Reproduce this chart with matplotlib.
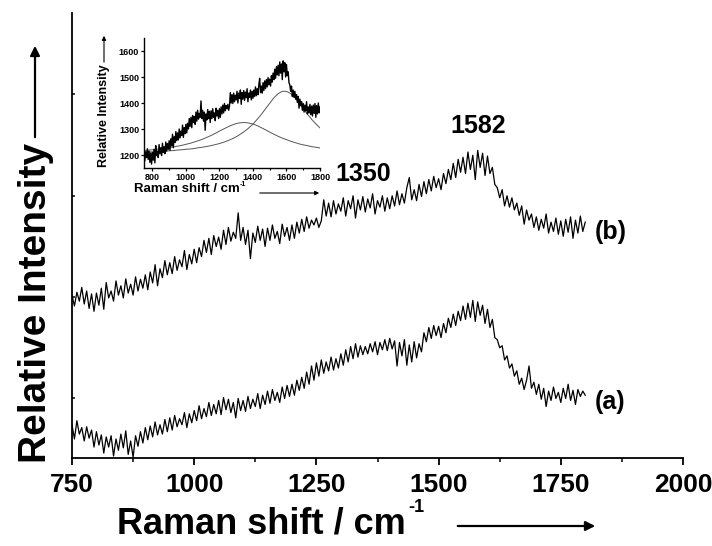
import numpy as np
import matplotlib.pyplot as plt
from matplotlib.ticker import MultipleLocator

# Raman shift grid (cm^-1), 5 cm^-1 step
shift = np.arange(750, 1801, 5)

# Spectrum (b), in counts (same data shown in the inset)
spectrum_b = [
    1205, 1178, 1212, 1190, 1224, 1183, 1215, 1172, 1208, 1165,
    1210, 1180, 1222, 1170, 1236, 1198, 1215, 1190, 1240, 1205,
    1228, 1198, 1245, 1210, 1232, 1205, 1250, 1215, 1244, 1222,
    1255, 1218, 1262, 1235, 1280, 1228, 1270, 1248, 1290, 1255,
    1285, 1258, 1300, 1266, 1292, 1275, 1315, 1268, 1305, 1282,
    1318, 1285, 1322, 1300, 1340, 1310, 1345, 1305, 1352, 1325,
    1348, 1318, 1365, 1330, 1372, 1338, 1360, 1345, 1408, 1340,
    1372, 1330, 1365, 1295, 1358, 1335, 1375, 1340, 1368, 1325,
    1370, 1340, 1378, 1345, 1362, 1332, 1380, 1350, 1372, 1340,
    1378, 1345, 1385, 1358, 1392, 1362, 1398, 1370, 1390, 1378,
    1395, 1372, 1388, 1440, 1400, 1432, 1398, 1438, 1405, 1430,
    1412, 1445, 1400, 1438, 1418, 1450, 1395, 1440, 1415, 1448,
    1410, 1442, 1420, 1455, 1405, 1438, 1422, 1450, 1412, 1445,
    1418, 1450, 1425, 1462, 1428, 1455, 1432, 1470, 1495, 1440,
    1465, 1438, 1478, 1448, 1485, 1455, 1490, 1462, 1498, 1470,
    1492, 1465, 1505, 1480, 1515, 1490, 1530, 1495, 1540, 1508,
    1545, 1505, 1558, 1515, 1550, 1490, 1562, 1520, 1555, 1500,
    1548, 1505, 1520, 1478, 1470, 1445, 1465, 1425, 1450, 1422,
    1445, 1415, 1432, 1402, 1425, 1380, 1415, 1390, 1405, 1372,
    1398, 1365, 1392, 1370, 1405, 1358, 1385, 1362, 1395, 1355,
    1388, 1350, 1392, 1360, 1398, 1345, 1390, 1358, 1400, 1362, 1385,
]

# Spectrum (a), stacked below (b) on the same scale
spectrum_a = [
    885, 850, 895, 862, 878, 845, 880, 852, 872, 830,
    868, 835, 860, 815, 855, 830, 858, 808, 850, 822,
    862, 828, 870, 812, 845, 805, 858, 832, 868, 840,
    878, 848, 882, 855, 892, 860, 885, 862, 898, 868,
    902, 872, 908, 880, 900, 885, 915, 878, 912, 890,
    920, 895, 932, 900, 925, 905, 940, 908, 935, 912,
    945, 910, 952, 922, 948, 915, 940, 902, 950, 920,
    945, 918, 955, 925, 948, 930, 962, 925, 958, 935,
    968, 938, 972, 945, 965, 940, 978, 950, 982, 955,
    985, 958, 995, 970, 1002, 975, 1015, 985, 1030, 995,
    1038, 1005, 1045, 1012, 1040, 1018, 1052, 1020, 1048, 1025,
    1060, 1032, 1070, 1040, 1078, 1048, 1085, 1052, 1080, 1058,
    1078, 1060, 1085, 1065, 1090, 1058, 1088, 1070, 1095, 1068,
    1098, 1072, 1092, 1030, 1088, 1055, 1095, 1032, 1082, 1040,
    1090, 1050, 1085, 1065, 1112, 1090, 1125, 1098, 1130, 1105,
    1128, 1100, 1135, 1112, 1148, 1125, 1158, 1130, 1165, 1142,
    1178, 1145, 1185, 1150, 1192, 1140, 1188, 1155, 1180, 1135,
    1170, 1125, 1145, 1100, 1095, 1075, 1080, 1045, 1055, 1025,
    1035, 1005, 1018, 985, 1000, 972, 995, 1030, 975, 990,
    960, 985, 948, 975, 930, 968, 945, 978, 950, 965,
    940, 975, 950, 985, 945, 970, 935, 972, 955, 968, 958,
]

# Fitted bands in the inset, read every 25 cm^-1
fit_shift = np.arange(750, 1801, 25)
fit_d = [
    1217, 1219, 1220, 1222, 1224, 1226, 1228, 1231, 1234, 1237,
    1241, 1245, 1250, 1255, 1261, 1268, 1275, 1283, 1292, 1300,
    1308, 1315, 1321, 1324, 1325, 1323, 1319, 1313, 1305, 1297,
    1288, 1280, 1272, 1265, 1259, 1253, 1248, 1243, 1239, 1236,
    1232, 1230, 1227,
]
fit_g = [
    1211, 1212, 1212, 1213, 1214, 1215, 1216, 1217, 1219, 1220,
    1222, 1223, 1225, 1228, 1230, 1233, 1236, 1240, 1244, 1249,
    1255, 1262, 1270, 1280, 1291, 1304, 1319, 1337, 1356, 1378,
    1399, 1420, 1436, 1445, 1445, 1436, 1420, 1400, 1378, 1357,
    1337, 1320, 1304,
]

peak_labels = ['1350', '1582']
trace_labels = ['(b)', '(a)']

W, H = 712, 546


def fpx(x, y):
    # image pixel (top-left origin) -> figure fraction
    return x / W, 1 - y / H


plt.rcParams.update({
    'font.family': 'Liberation Sans',
    'font.weight': 'bold',
})

fig = plt.figure(figsize=(W / 100, H / 100), dpi=100)

# main axes
ax = fig.add_axes([72 / W, (H - 458) / H, 611 / W, 445 / H])
ax.plot(shift, spectrum_b, color='black', lw=0.9)
ax.plot(shift, spectrum_a, color='black', lw=0.9)
ax.set_xlim(750, 2000)
ax.set_ylim(803, 1901)
ax.set_xticks(np.arange(750, 2001, 250))
ax.xaxis.set_minor_locator(MultipleLocator(125))
ax.set_yticks([950, 1200, 1450, 1700])
ax.set_yticklabels([])
for side in ('top', 'right'):
    ax.spines[side].set_visible(False)
for side in ('left', 'bottom'):
    ax.spines[side].set_linewidth(1.3)
ax.tick_params(axis='x', which='major', direction='out', length=5, width=1.3,
               labelsize=19, pad=6)
ax.tick_params(axis='x', which='minor', direction='out', length=3, width=1.1)
ax.tick_params(axis='y', which='major', direction='in', length=2.5, width=1.1)

ax.text(1345, 1504, peak_labels[0], fontsize=18, fontweight='bold',
        ha='center', va='center')
ax.text(1581, 1622, peak_labels[1], fontsize=18, fontweight='bold',
        ha='center', va='center')
ax.text(1820, 1361, trace_labels[0], fontsize=18, fontweight='bold',
        ha='left', va='center')
ax.text(1820, 941, trace_labels[1], fontsize=18, fontweight='bold',
        ha='left', va='center')

# main axis labels with arrows
fig.text(*fpx(406, 524), 'Raman shift / cm', fontsize=26,
         fontweight='bold', ha='right', va='center')
fig.text(*fpx(408, 507), '-1', fontsize=13, fontweight='bold',
         ha='left', va='center')
ax.annotate('', xy=(598, H - 526), xytext=(455, H - 526),
            xycoords='figure pixels', textcoords='figure pixels',
            arrowprops=dict(arrowstyle='-|>', lw=1.6, color='black',
                            mutation_scale=14))
fig.text(*fpx(36, 303), 'Relative Intensity', fontsize=28, fontweight='bold',
         rotation=90, ha='center', va='center')
ax.annotate('', xy=(35, H - 43), xytext=(35, H - 140),
            xycoords='figure pixels', textcoords='figure pixels',
            arrowprops=dict(arrowstyle='-|>', lw=1.6, color='black',
                            mutation_scale=14))

# inset
ins = fig.add_axes([144 / W, (H - 168) / H, 176 / W, 130 / H])
ins.plot(fit_shift, fit_d, color='#555555', lw=0.7)
ins.plot(fit_shift, fit_g, color='#555555', lw=0.7)
ins.plot(shift, spectrum_b, color='black', lw=1.0)
ins.set_xlim(750, 1800)
ins.set_ylim(1150, 1650)
ins.set_xticks(np.arange(800, 1801, 200))
ins.xaxis.set_minor_locator(MultipleLocator(100))
ins.set_yticks(np.arange(1200, 1601, 100))
for side in ('top', 'right'):
    ins.spines[side].set_visible(False)
for side in ('left', 'bottom'):
    ins.spines[side].set_linewidth(1.0)
ins.tick_params(which='major', direction='out', length=2.5, width=0.9,
                labelsize=6.5, pad=1)
ins.tick_params(which='minor', direction='out', length=1.5, width=0.8)

fig.text(*fpx(240, 189), 'Raman shift / cm', fontsize=9.5,
         fontweight='bold', ha='right', va='center')
fig.text(*fpx(240, 185), '-1', fontsize=5, fontweight='bold',
         ha='left', va='center')
ins.annotate('', xy=(322, H - 193), xytext=(257, H - 193),
             xycoords='figure pixels', textcoords='figure pixels',
             arrowprops=dict(arrowstyle='-|>', lw=0.8, color='black',
                             mutation_scale=6))
fig.text(*fpx(104, 116), 'Relative Intensity', fontsize=9, fontweight='bold',
         rotation=90, ha='center', va='center')
ins.annotate('', xy=(104, H - 33), xytext=(104, H - 65),
             xycoords='figure pixels', textcoords='figure pixels',
             arrowprops=dict(arrowstyle='-|>', lw=0.8, color='black',
                             mutation_scale=6))

fig.savefig('out.png', dpi=100)
